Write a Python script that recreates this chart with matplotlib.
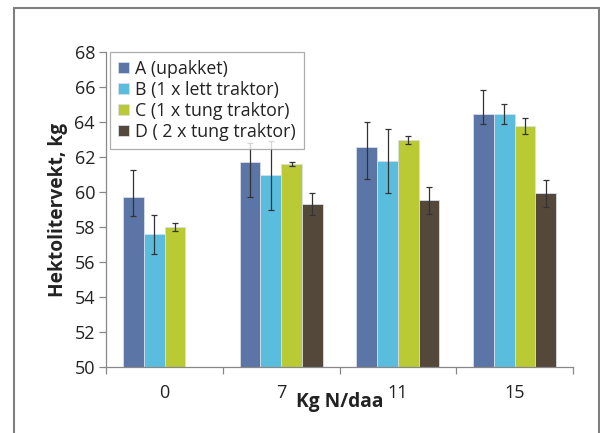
import matplotlib
matplotlib.use("Agg")
import matplotlib.pyplot as plt
import numpy as np
from matplotlib.patches import Rectangle

plt.rcParams['font.family'] = ['Open Sans', 'DejaVu Sans']

categories = ["0", "7", "11", "15"]
series_names = ["A (upakket)", "B (1 x lett traktor)", "C (1 x tung traktor)", "D ( 2 x tung traktor)"]
colors = ["#5B76A6", "#5BBDDE", "#B9CA34", "#54483A"]

# mean values per series (NaN = no bar)
vals_A = [59.70, 61.70, 62.59, 64.45]
vals_B = [57.58, 60.95, 61.77, 64.44]
vals_C = [58.02, 61.58, 62.99, 63.77]
vals_D = [np.nan, 59.33, 59.52, 59.92]

# error bar extents (lower, upper)
err_A_lo = [1.09, 1.97, 1.83, 0.59]
err_A_hi = [1.54, 1.08, 1.43, 1.35]
err_B = [1.12, 1.95, 1.85, 0.57]
err_C = [0.23, 0.12, 0.23, 0.46]
err_D = [0.0, 0.63, 0.75, 0.75]

values = [vals_A, vals_B, vals_C, vals_D]
errors = [
    [err_A_lo, err_A_hi],
    [err_B, err_B],
    [err_C, err_C],
    [err_D, err_D],
]

fig = plt.figure(figsize=(6.0, 4.33), dpi=100)
ax = fig.add_axes([0.177, 0.152, 0.778, 0.728])

# outer frame
fig.patches.append(Rectangle((14 / 600, -0.05), 585 / 600, 1.05 - 8 / 433,
                             transform=fig.transFigure, fill=False,
                             edgecolor="#7f7f7f", linewidth=1.5, zorder=0))

x = np.arange(len(categories))
bw = 0.178
for i, (vals, err, c, name) in enumerate(zip(values, errors, colors, series_names)):
    pos = x + (i - 1.5) * bw
    v = np.array(vals, dtype=float)
    ax.bar(pos, v - 50, bottom=50, width=bw, color=c, edgecolor="#d8dde8",
           linewidth=0.6, label=name, zorder=2)
    mask = ~np.isnan(v)
    lo = np.array(err[0])[mask]
    hi = np.array(err[1])[mask]
    ax.errorbar(pos[mask], v[mask], yerr=[lo, hi], fmt="none", ecolor="#333333",
                elinewidth=0.9, capsize=2.2, capthick=0.9, zorder=3)

ax.set_xlim(-0.5, 3.5)
ax.set_ylim(50, 68)
ax.set_yticks(np.arange(50, 69, 2))
ax.set_xticks(x)
ax.set_xticklabels(categories)
ax.set_xticks(np.arange(-0.5, 3.6, 1.0), minor=True)
ax.tick_params(axis="x", which="major", length=0, pad=12, labelsize=13, colors="#222222")
ax.tick_params(axis="x", which="minor", length=5, width=0.9, color="#888888")
ax.tick_params(axis="y", length=5, width=0.9, color="#888888", labelsize=13,
               labelcolor="#222222", pad=3)

for s in ["top", "right"]:
    ax.spines[s].set_visible(False)
for s in ["left", "bottom"]:
    ax.spines[s].set_color("#888888")
    ax.spines[s].set_linewidth(0.9)

ax.set_ylabel("Hektolitervekt, kg", fontsize=13.8, fontweight="bold", color="#222222", labelpad=5)
ax.set_xlabel("Kg N/daa", fontsize=13.8, fontweight="bold", color="#222222", labelpad=-7)

leg = ax.legend(loc="upper left", bbox_to_anchor=(0.008, 1.0), fontsize=12.8,
                frameon=True, fancybox=False, handlelength=0.6, handleheight=0.6,
                handletextpad=0.35, borderpad=0.45, labelspacing=0.17,
                borderaxespad=0.0)
leg.get_frame().set_edgecolor("#999999")
leg.get_frame().set_linewidth(0.9)
for t in leg.get_texts():
    t.set_color("#222222")

fig.savefig("out.png", dpi=100)
